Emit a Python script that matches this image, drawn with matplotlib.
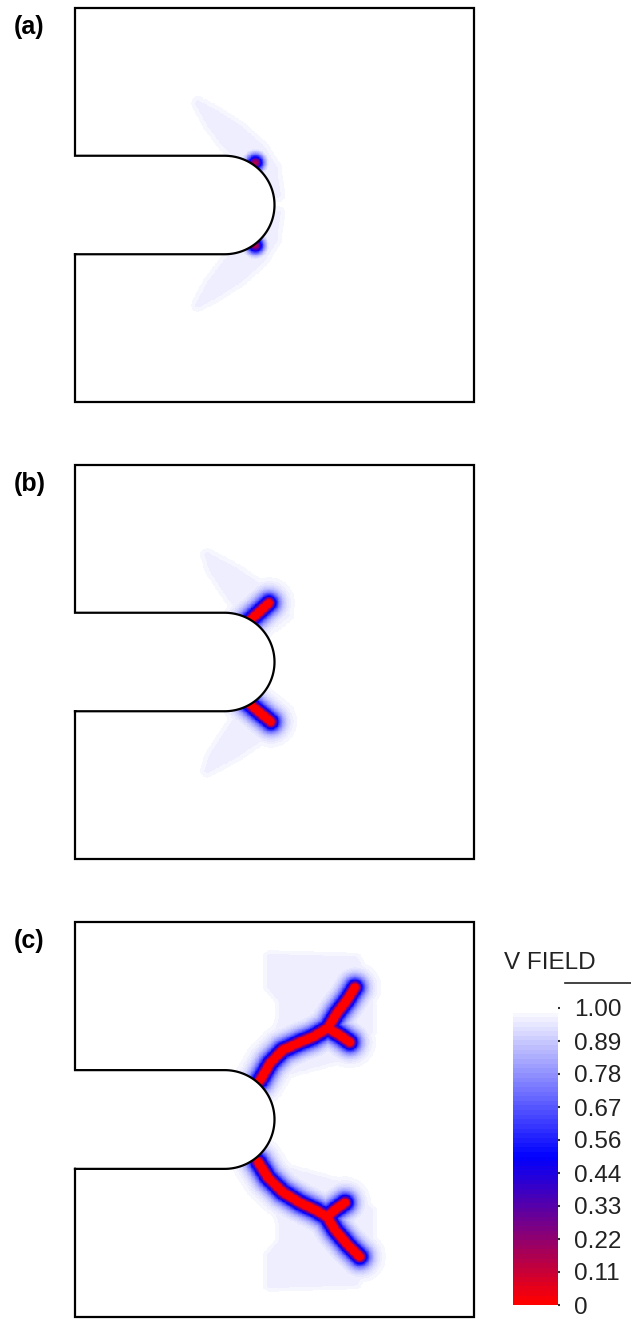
"""
Phase-field damage (V FIELD) around a notched specimen at three stages.
Crack paths and diffuse-damage zones read off the reference figure,
in units of the specimen width (unit square domain).
"""

import numpy as np
import matplotlib
matplotlib.use("Agg")
import matplotlib.pyplot as plt
from matplotlib.colors import LinearSegmentedColormap, Normalize
from matplotlib.cm import ScalarMappable
from matplotlib.lines import Line2D
from matplotlib.path import Path

plt.rcParams["font.family"] = ["Liberation Sans", "DejaVu Sans"]

# Notch geometry (straight slot ending in a half circle)
notch_len = 0.375
notch_half = 0.125
notch_yc = 0.5

panel_labels = ["(a)", "(b)", "(c)"]

# Crack centre lines, one list of (x, y) points per branch
cracks_a = [
    [(0.451, 0.607), (0.452, 0.608)],
    [(0.451, 0.398), (0.452, 0.397)],
]
cracks_b = [
    [(0.434, 0.602), (0.460, 0.626), (0.486, 0.650)],
    [(0.434, 0.396), (0.462, 0.372), (0.491, 0.348)],
]
cracks_c = [
    [(0.464, 0.600), (0.489, 0.643), (0.521, 0.676), (0.564, 0.696),
     (0.596, 0.709), (0.634, 0.732), (0.657, 0.770), (0.682, 0.803),
     (0.702, 0.835)],
    [(0.634, 0.732), (0.664, 0.714), (0.689, 0.696)],
    [(0.459, 0.392), (0.484, 0.352), (0.521, 0.316), (0.564, 0.289),
     (0.602, 0.271), (0.632, 0.253), (0.652, 0.220), (0.684, 0.182),
     (0.714, 0.152)],
    [(0.632, 0.253), (0.652, 0.271), (0.677, 0.289)],
]

# Outlines of the faint diffuse damage zones
haze_a = [
    [(0.308, 0.759), (0.351, 0.736), (0.414, 0.695), (0.469, 0.645), (0.501, 0.594),
     (0.509, 0.525), (0.484, 0.525), (0.459, 0.576), (0.414, 0.614), (0.376, 0.652),
     (0.338, 0.703)],
    [(0.308, 0.246), (0.351, 0.269), (0.414, 0.310), (0.469, 0.360), (0.501, 0.411),
     (0.509, 0.480), (0.484, 0.480), (0.459, 0.429), (0.414, 0.391), (0.376, 0.353),
     (0.338, 0.302)],
]
haze_b = [
    [(0.331, 0.772), (0.401, 0.734), (0.469, 0.688), (0.521, 0.662), (0.531, 0.619),
     (0.501, 0.594), (0.451, 0.594), (0.414, 0.627), (0.376, 0.683), (0.343, 0.734)],
    [(0.331, 0.224), (0.401, 0.262), (0.469, 0.308), (0.521, 0.334), (0.531, 0.377),
     (0.501, 0.402), (0.451, 0.402), (0.414, 0.369), (0.376, 0.313), (0.343, 0.262)],
]
haze_c = [
    [(0.489, 0.909), (0.702, 0.904), (0.734, 0.841), (0.739, 0.727), (0.677, 0.663),
     (0.539, 0.625), (0.469, 0.587), (0.501, 0.701), (0.521, 0.752), (0.521, 0.803),
     (0.489, 0.841)],
    [(0.489, 0.083), (0.702, 0.088), (0.734, 0.151), (0.739, 0.265), (0.677, 0.329),
     (0.539, 0.367), (0.469, 0.405), (0.501, 0.291), (0.521, 0.240), (0.521, 0.189),
     (0.489, 0.151)],
]

haze_amp = [0.035, 0.035, 0.04]
# damage profile across a crack: peak * exp(-((d - w) / l) ** p)
core_peak = [0.85, 1.0, 1.0]
core_w = [0.0, 0.0085, 0.0088]
core_l = [0.02, 0.0138, 0.0138]
core_p = [2, 1, 1]

# Colour bar ticks
cbar_ticks = [0, 1/9, 2/9, 3/9, 4/9, 5/9, 6/9, 7/9, 8/9, 1.0]
cbar_labels = ["0", "0.11", "0.22", "0.33", "0.44", "0.56", "0.67", "0.78", "0.89", "1.00"]

HAZE_EDGE = 0.02


def dist_to_path(X, Y, pts):
    pts = np.asarray(pts, dtype=float)
    d = np.full(X.shape, np.inf)
    for (x0, y0), (x1, y1) in zip(pts[:-1], pts[1:]):
        dx, dy = x1 - x0, y1 - y0
        t = ((X - x0) * dx + (Y - y0) * dy) / (dx * dx + dy * dy)
        t = np.clip(t, 0, 1)
        d = np.minimum(d, np.hypot(X - x0 - t * dx, Y - y0 - t * dy))
    return d


def dist_to_region(X, Y, poly):
    # zero inside the polygon, distance to its edge outside
    loop = list(poly) + [poly[0]]
    d = dist_to_path(X, Y, loop)
    inside = Path(loop).contains_points(np.c_[X.ravel(), Y.ravel()]).reshape(X.shape)
    d[inside] = 0
    return d


def v_field(X, Y, i):
    cracks = [cracks_a, cracks_b, cracks_c][i]
    haze = [haze_a, haze_b, haze_c][i]
    d = np.min([dist_to_path(X, Y, c) for c in cracks], axis=0)
    x = np.clip(d - core_w[i], 0, None) / core_l[i]
    core = core_peak[i] * np.exp(-x ** core_p[i])
    dh = np.min([dist_to_region(X, Y, h) for h in haze], axis=0)
    diffuse = haze_amp[i] * np.exp(-(dh / HAZE_EDGE) ** 2)
    return 1 - np.maximum(core, diffuse)


def notch_mask(X, Y):
    slot = (X < notch_len) & (np.abs(Y - notch_yc) < notch_half)
    tip = (X - notch_len) ** 2 + (Y - notch_yc) ** 2 < notch_half ** 2
    return slot | tip


cmap = LinearSegmentedColormap.from_list(
    "vfield", [(0.0, "#ff0000"), (0.5, "#0000ff"), (1.0, "#ffffff")], N=64)
norm = Normalize(0, 1)

n = 500
gx = np.linspace(0, 1, n)
X, Y = np.meshgrid(gx, gx)
mask = notch_mask(X, Y)

fig = plt.figure(figsize=(6.31, 13.22), dpi=100)
W, H = 631, 1322
panel_tops = [8, 465, 922]
panel_h = [394, 394, 395]

# specimen outline: rectangle with the notch cut in from the left edge
th = np.linspace(np.pi / 2, -np.pi / 2, 100)
arc_x = notch_len + notch_half * np.cos(th)
arc_y = notch_yc + notch_half * np.sin(th)
out_x = np.concatenate([[0, 0, 1, 1, 0, 0], arc_x, [0]])
out_y = np.concatenate([[notch_yc - notch_half, 0, 0, 1, 1, notch_yc + notch_half],
                        arc_y, [notch_yc - notch_half]])

for i in range(3):
    ax = fig.add_axes([75 / W, 1 - (panel_tops[i] + panel_h[i]) / H, 399 / W, panel_h[i] / H])
    V = np.ma.masked_where(mask, v_field(X, Y, i))
    ax.imshow(V, cmap=cmap, norm=norm, origin="lower", extent=(0, 1, 0, 1),
              interpolation="nearest", aspect="auto")
    ax.plot(out_x, out_y, color="black", lw=1.6, clip_on=False, solid_joinstyle="miter")
    ax.set_xlim(0, 1)
    ax.set_ylim(0, 1)
    ax.axis("off")

    fig.text(14 / W, 1 - (panel_tops[i] + 19) / H, panel_labels[i],
             fontsize=18, fontweight="bold", va="center", ha="left")

# colour bar
cax = fig.add_axes([513 / W, 1 - 1305 / H, 45 / W, 297 / H])
cb = fig.colorbar(ScalarMappable(norm=norm, cmap=cmap), cax=cax, ticks=cbar_ticks)
cb.set_ticklabels(cbar_labels)
cb.outline.set_visible(False)
cax.tick_params(axis="y", length=1.5, width=1.5, colors="#333333",
                labelsize=17.5, pad=10, labelcolor="#222222")

fig.text(504 / W, 1 - 963 / H, "V FIELD", fontsize=17.5, va="center", ha="left",
         color="#222222")
fig.add_artist(Line2D([565 / W, 631 / W], [1 - 983 / H] * 2, color="#222222",
                      lw=1.2, transform=fig.transFigure))

fig.savefig("out.png", dpi=100)
